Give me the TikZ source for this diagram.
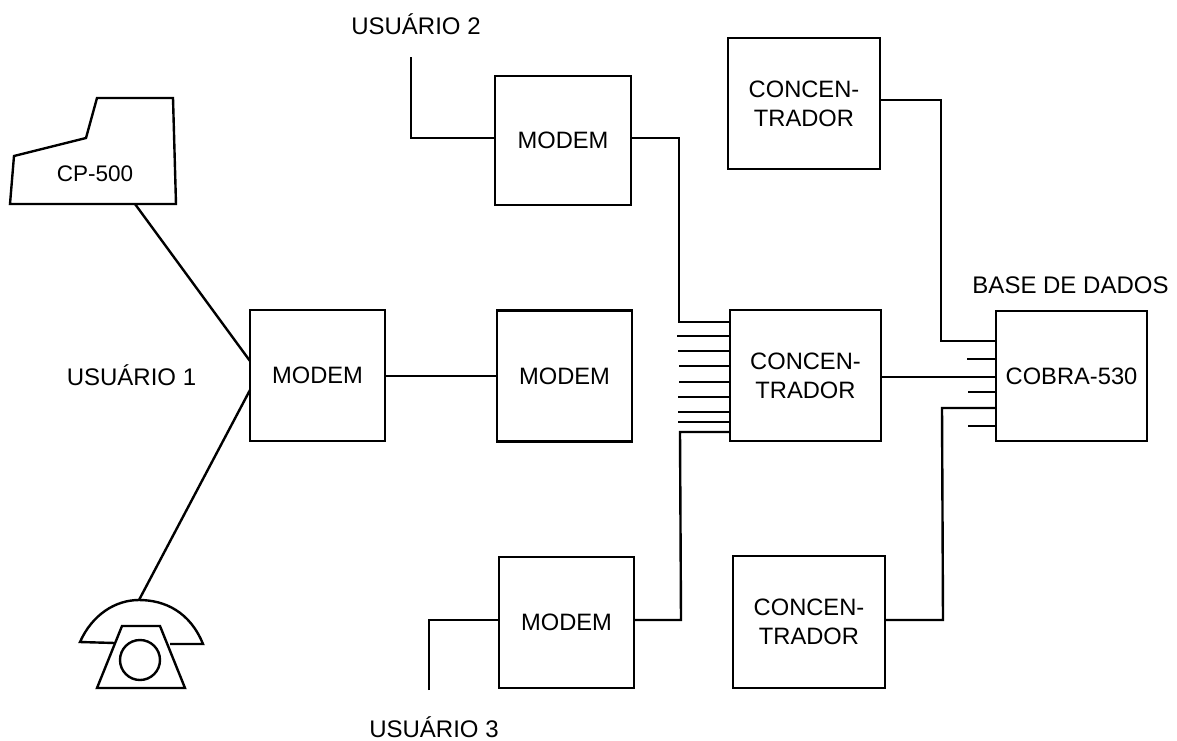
\documentclass[tikz,border=0pt]{standalone}
\usepackage{fontspec}
\setmainfont{Liberation Sans}
\tikzset{
  box/.style={draw,line width=2.4pt,inner sep=0pt,align=center,font=\fontsize{23.7}{29}\selectfont},
  lab/.style={inner sep=0pt,font=\fontsize{24}{29}\selectfont},
  wire/.style={line width=2.4pt,line join=miter}
}
\begin{document}
\begin{tikzpicture}[x=1pt,y=-1pt]
\useasboundingbox (0,0) rectangle (1177,740);
% boxes
\node[box,minimum width=135pt,minimum height=131pt] (m1) at (317.5,375.5) {MODEM};
\node[box,minimum width=136pt,minimum height=129pt] (m2) at (563,140.5) {MODEM};
\node[box,minimum width=135pt,minimum height=131pt] (m3) at (564.5,376) {MODEM};
\node[box,minimum width=135pt,minimum height=131pt] (m4) at (566.5,622.5) {MODEM};
\node[box,minimum width=152pt,minimum height=131pt] (c1) at (804,103.5) {CONCEN-\\TRADOR};
\node[box,minimum width=151pt,minimum height=131pt] (c2) at (805.5,375.5) {CONCEN-\\TRADOR};
\node[box,minimum width=152pt,minimum height=132pt] (c3) at (809,622) {CONCEN-\\TRADOR};
\node[box,minimum width=151pt,minimum height=130pt] (cb) at (1071.5,376) {COBRA-530};
% labels
\node[lab] (u2) at (416,24) {USUÁRIO 2};
\node[lab] (u1) at (131.5,375) {USUÁRIO 1};
\node[lab] (u3) at (434,727) {USUÁRIO 3};
\node[lab] (bd) at (1070.5,285) {BASE DE DADOS};
% CP-500
\node[lab,font=\fontsize{22.5}{29}\selectfont] (cp) at (95,174) {CP-500};
\draw[wire] (10,204) -- (14,156) -- (86,138) -- (97,98) -- (173,98) -- (176,204) -- cycle;
\coordinate (cpout) at (135,204);
\coordinate (m1a) at (250,361);
\coordinate (m1b) at (250,390);
\draw[wire] (cpout) -- (m1a);
% telephone
\coordinate (tel) at (139,600);
\draw[wire] (115,643) -- (80,642) .. controls (92,615) and (115,600) .. (tel) .. controls (165,600) and (190,612) .. (203,644) -- (170,644);
\draw[wire] (122,626) -- (160,626) -- (185,688) -- (97,688) -- cycle;
\draw[wire] (140,660) circle (20);
\draw[wire] (tel) -- (m1b);
% links
\draw[wire] (m1.east |- 0,376) -- (m3.west |- 0,376);
\coordinate (u2end) at (411,57);
\coordinate (u3end) at (429,690);
\draw[wire] (u2end) -- (411,138) -- (m2.west |- 0,138);
\draw[wire] (u3end) -- (429,620) -- (m4.west |- 0,620);
\draw[wire] (m2.east |- 0,138) -- (679,138) -- (679,322) -- (c2.west |- 0,322);
\draw[wire] (m4.east |- 0,620) -- (681,620) -- (680,432) -- (c2.west |- 0,432);
\foreach \yy/\xx in {336/677,351/678,366/679,382/679,397/678,412/678,422/678}
  \draw[wire] (\xx,\yy) -- (c2.west |- 0,\yy);
\draw[wire] (c1.east |- 0,100) -- (941,100) -- (941,341) -- (cb.west |- 0,341);
\draw[wire] (c3.east |- 0,620) -- (943,620) -- (942,408) -- (cb.west |- 0,408);
\draw[wire] (c2.east |- 0,377) -- (cb.west |- 0,377);
\foreach \yy/\xx in {359/967,392/968,426/968}
  \draw[wire] (\xx,\yy) -- (cb.west |- 0,\yy);
\end{tikzpicture}
\end{document}
